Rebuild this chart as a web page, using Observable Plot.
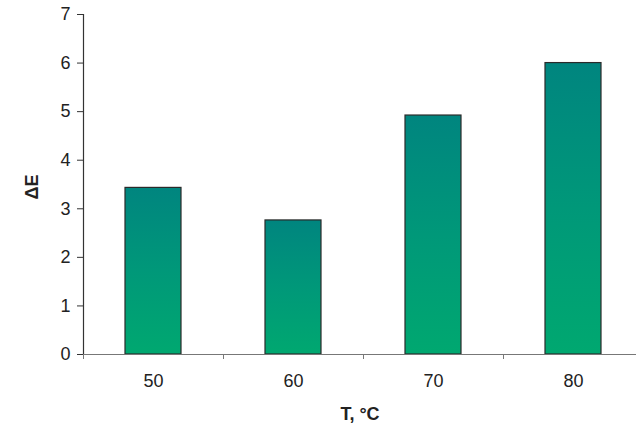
<!DOCTYPE html>
<html>
<head>
<meta charset="utf-8">
<script src="https://cdn.jsdelivr.net/npm/d3@7"></script>
<script src="https://cdn.jsdelivr.net/npm/@observablehq/plot@0.6"></script>
<style>
  html, body { margin: 0; padding: 0; background: #fff; overflow: hidden; }
  svg { font-family: "Liberation Sans", Arial, sans-serif; }
</style>
</head>
<body>
<div id="chart"></div>
<script>
const categories = ["50", "60", "70", "80"];
const values = [3.43, 2.76, 4.92, 6.0];
const yTicks = [0, 1, 2, 3, 4, 5, 6, 7];

const data = categories.map((c, i) => ({ T: c, dE: values[i] }));

const xRange = [83, 643];
const step = (xRange[1] - xRange[0]) / categories.length;

const plot = Plot.plot({
  width: 636,
  height: 428,
  marginLeft: 83,
  marginRight: 0,
  marginTop: 14,
  marginBottom: 74,
  style: { fontFamily: "Liberation Sans, Arial, sans-serif", fontSize: "18px", color: "#222", background: "#fff", overflow: "hidden" },
  x: { domain: categories, range: xRange, paddingInner: 0.6, paddingOuter: 0.3, label: null },
  y: { domain: [0, 7], label: null },
  marks: [
    Plot.barY(data, { x: "T", y: "dE", fill: "url(#barGrad)", stroke: "#2a2a2a", strokeWidth: 1.2 }),
    Plot.ruleY([0], { stroke: "#777", strokeWidth: 1.2 }),
    Plot.ruleX([categories[0]], { y1: 0, y2: 7, dx: -step / 2, stroke: "#333", strokeWidth: 1.2 }),
    Plot.axisX({ tickSize: 5, tickFormat: () => "", dx: -step / 2, stroke: "#777" }),
    Plot.axisX({ tickSize: 0, tickPadding: 20, fontSize: 18, fill: "#222" }),
    Plot.axisY({ ticks: yTicks, tickFormat: d3.format("d"), tickSize: 6, tickPadding: 7, fontSize: 18, fill: "#222", stroke: "#333" }),
    Plot.text(["T, °C"], { frameAnchor: "bottom", dy: 65, fontSize: 18, fontWeight: "bold", fill: "#222" }),
    Plot.text(["ΔE"], { frameAnchor: "left", dx: -51, dy: 15, rotate: -90, fontSize: 18, fontWeight: "bold", fill: "#222" })
  ]
});

const defs = d3.create("svg:defs");
const grad = defs.append("linearGradient").attr("id", "barGrad").attr("x1", 0).attr("y1", 0).attr("x2", 0).attr("y2", 1);
grad.append("stop").attr("offset", "0%").attr("stop-color", "#00857f");
grad.append("stop").attr("offset", "50%").attr("stop-color", "#009879");
grad.append("stop").attr("offset", "100%").attr("stop-color", "#00a870");
plot.insertBefore(defs.node(), plot.firstChild);

document.getElementById("chart").appendChild(plot);
</script>
</body>
</html>
